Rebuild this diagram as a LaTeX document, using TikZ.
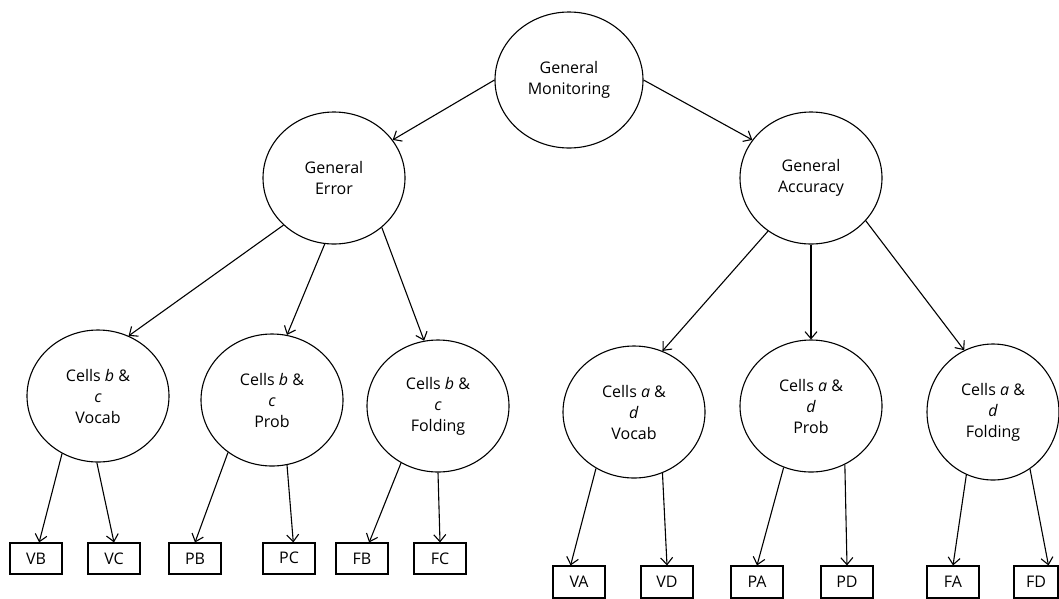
\documentclass[tikz,border=0pt]{standalone}
\usepackage{fontspec}
\setmainfont{Open Sans}
\usetikzlibrary{shapes.geometric,arrows.meta}
\begin{document}
\begin{tikzpicture}[x=1pt,y=-1pt,
  circ/.style={draw, ellipse, line width=1.1pt, minimum width=142pt, minimum height=132pt, inner sep=0pt, align=center, font=\fontsize{16}{21}\selectfont},
  leaf/.style={draw, rectangle, line width=1.1pt, minimum width=52pt, minimum height=31pt, inner sep=0pt, font=\fontsize{16}{21}\selectfont},
  arr/.style={line width=1.1pt, -{Straight Barb[length=7pt,width=12pt]}}]
\useasboundingbox (0,0) rectangle (1059,598);
\node[circ, minimum width=148pt, minimum height=136pt] (mon) at (569,80) {General\\Monitoring};
\node[circ] (err) at (334,178) {General\\Error};
\node[circ] (acc) at (811,178) {General\\Accuracy};
\node[circ] (vbc) at (98,396) {Cells \textit{b} \&\\\textit{c}\\Vocab};
\node[circ] (pbc) at (272,400) {Cells \textit{b} \&\\\textit{c}\\Prob};
\node[circ] (fbc) at (438,406) {Cells \textit{b} \&\\\textit{c}\\Folding};
\node[circ] (vad) at (634,412) {Cells \textit{a} \&\\\textit{d}\\Vocab};
\node[circ] (pad) at (811,406) {Cells \textit{a} \&\\\textit{d}\\Prob};
\node[circ, minimum width=132pt, minimum height=136pt] (fad) at (993,412) {Cells \textit{a} \&\\\textit{d}\\Folding};
\node[leaf] (VB) at (36,558.5) {VB};
\node[leaf] (VC) at (114,558.5) {VC};
\node[leaf] (PB) at (195,558.5) {PB};
\node[leaf] (PC) at (289,558.5) {\raisebox{2pt}{PC}};
\node[leaf] (FB) at (362,558.5) {FB};
\node[leaf] (FC) at (440,558.5) {FC};
\node[leaf, minimum height=32pt] (VA) at (579,582) {VA};
\node[leaf, minimum height=32pt] (VD) at (667,582) {VD};
\node[leaf, minimum height=32pt] (PA) at (757,582) {PA};
\node[leaf, minimum height=32pt] (PD) at (847,582) {PD};
\node[leaf, minimum height=32pt] (FA) at (953,582) {FA};
\node[leaf, minimum height=32pt, minimum width=44pt] (FD) at (1036,582) {FD};
\draw[arr] (mon.180) -- (err.33);
\draw[arr] (mon.0) -- (acc.147);
\draw[arr] (err.223) -- (vbc.63);
\draw[arr] (err.262) -- (pbc.77);
\draw[arr] (err.314) -- (fbc.102);
\draw[arr] (acc.231) -- (vad.65);
\draw[arr] (acc.270) -- (pad.90);
\draw[arr] (acc.322) -- (fad.115);
\draw[arr] (vbc.238) -- (VB.79);
\draw[arr] (vbc.269) -- (VC.north);
\draw[arr] (pbc.230) -- (PB.north);
\draw[arr] (pbc.283) -- (PC.75);
\draw[arr] (fbc.237) -- (FB.66);
\draw[arr] (fbc.270) -- (FC.north);
\draw[arr] (vad.236) -- (VA.117);
\draw[arr] (vad.295) -- (VD.north);
\draw[arr] (pad.246) -- (PA.north);
\draw[arr] (pad.300) -- (PD.north);
\draw[arr] (fad.247) -- (FA.north);
\draw[arr] (fad.303) -- (FD.53);
\end{tikzpicture}
\end{document}
